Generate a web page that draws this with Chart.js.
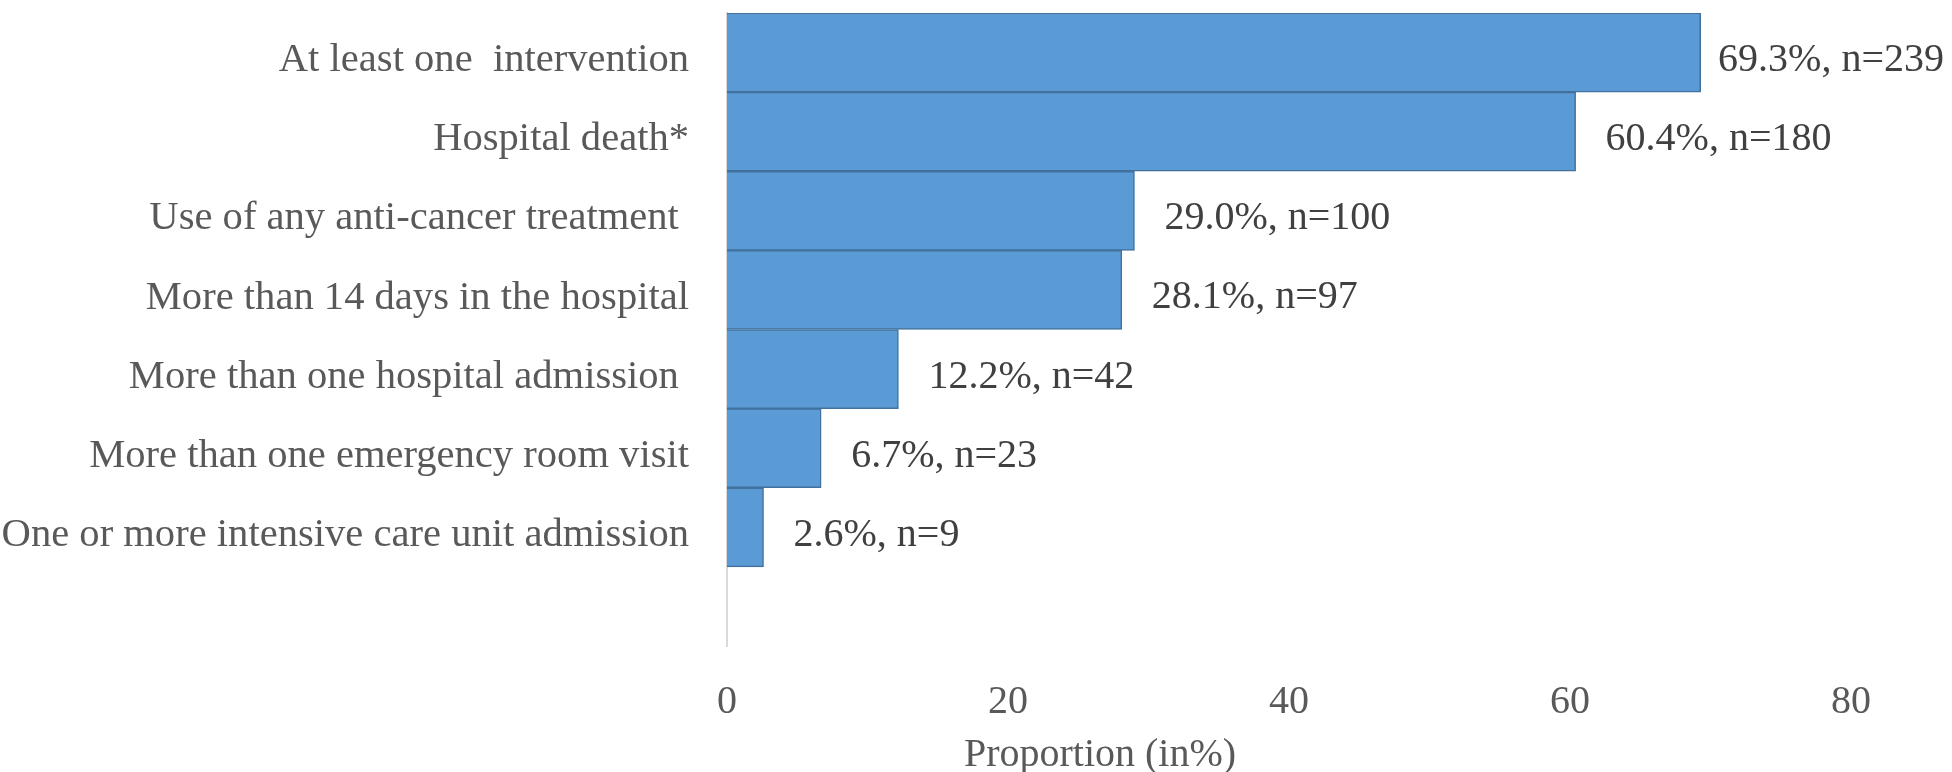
<!DOCTYPE html>
<html>
<head>
<meta charset="utf-8">
<script src="https://cdn.jsdelivr.net/npm/chart.js@4.4.0/dist/chart.umd.min.js"></script>
<style>
  html, body { margin: 0; padding: 0; background: #ffffff; }
  #wrap { width: 1952px; height: 772px; }
</style>
</head>
<body>
<div id="wrap"><canvas id="indicatorsChart"></canvas></div>
<script>
const categories = [
    'At least one  intervention',
    'Hospital death*',
    'Use of any anti-cancer treatment ',
    'More than 14 days in the hospital',
    'More than one hospital admission ',
    'More than one emergency room visit',
    'One or more intensive care unit admission'
];
const percentages = [69.3, 60.4, 29.0, 28.1, 12.2, 6.7, 2.6];
const counts = [239, 180, 100, 97, 42, 23, 9];
const xTicks = [0, 20, 40, 60, 80];
const xTitle = 'Proportion (in%)';

const serif = "'Liberation Serif', 'Times New Roman', serif";

// 棒の右にラベルを描く + 軸タイトル
const barLabels = {
    id: 'barLabels',
    afterDatasetsDraw(chart) {
        const ctx = chart.ctx;
        const meta = chart.getDatasetMeta(0);
        ctx.save();
        ctx.font = '40px ' + serif;
        ctx.fillStyle = '#404040';
        ctx.textAlign = 'left';
        ctx.textBaseline = 'middle';
        meta.data.forEach((bar, i) => {
            const text = percentages[i].toFixed(1) + '%, n=' + counts[i];
            const w = ctx.measureText(text).width;
            const x = Math.min(bar.x + 30, chart.width - w - 8);
            ctx.fillText(text, x, bar.y + 8);
        });
        // x軸タイトル（中央より左寄り）
        ctx.fillStyle = '#595959';
        ctx.textAlign = 'center';
        ctx.fillText(xTitle, 1100, chart.chartArea.bottom + 109);
        ctx.restore();
    }
};

const ctx = document.getElementById('indicatorsChart').getContext('2d');

new Chart(ctx, {
    type: 'bar',
    data: {
        labels: categories.concat(['']),
        datasets: [{
            data: percentages,
            backgroundColor: '#5b9bd5',
            borderColor: '#41719c',
            borderWidth: 1.5,
            barPercentage: 1,
            categoryPercentage: 1
        }]
    },
    options: {
        indexAxis: 'y',
        responsive: true,
        maintainAspectRatio: false,
        animation: false,
        layout: {
            padding: { top: 13, right: 101, bottom: 0, left: 0 }
        },
        scales: {
            x: {
                min: 0,
                max: 80,
                afterBuildTicks: function(scale) {
                    scale.ticks = xTicks.map(v => ({ value: v }));
                },
                afterFit: function(scale) {
                    scale.height = 126;
                    scale.paddingLeft = 0;
                    scale.paddingRight = 0;
                },
                grid: { display: false },
                border: { display: false },
                ticks: {
                    color: '#595959',
                    padding: 24,
                    font: { family: serif, size: 40 }
                }
            },
            y: {
                afterFit: function(scale) {
                    scale.width = 727;
                    scale.paddingTop = 0;
                    scale.paddingBottom = 0;
                },
                grid: { display: false },
                border: { display: true, color: '#d9d9d9', width: 2 },
                ticks: {
                    color: '#595959',
                    padding: 30,
                    labelOffset: 8,
                    autoSkip: false,
                    font: { family: serif, size: 40.6 }
                }
            }
        },
        plugins: {
            legend: { display: false },
            tooltip: { enabled: false }
        }
    },
    plugins: [barLabels]
});
</script>
</body>
</html>
